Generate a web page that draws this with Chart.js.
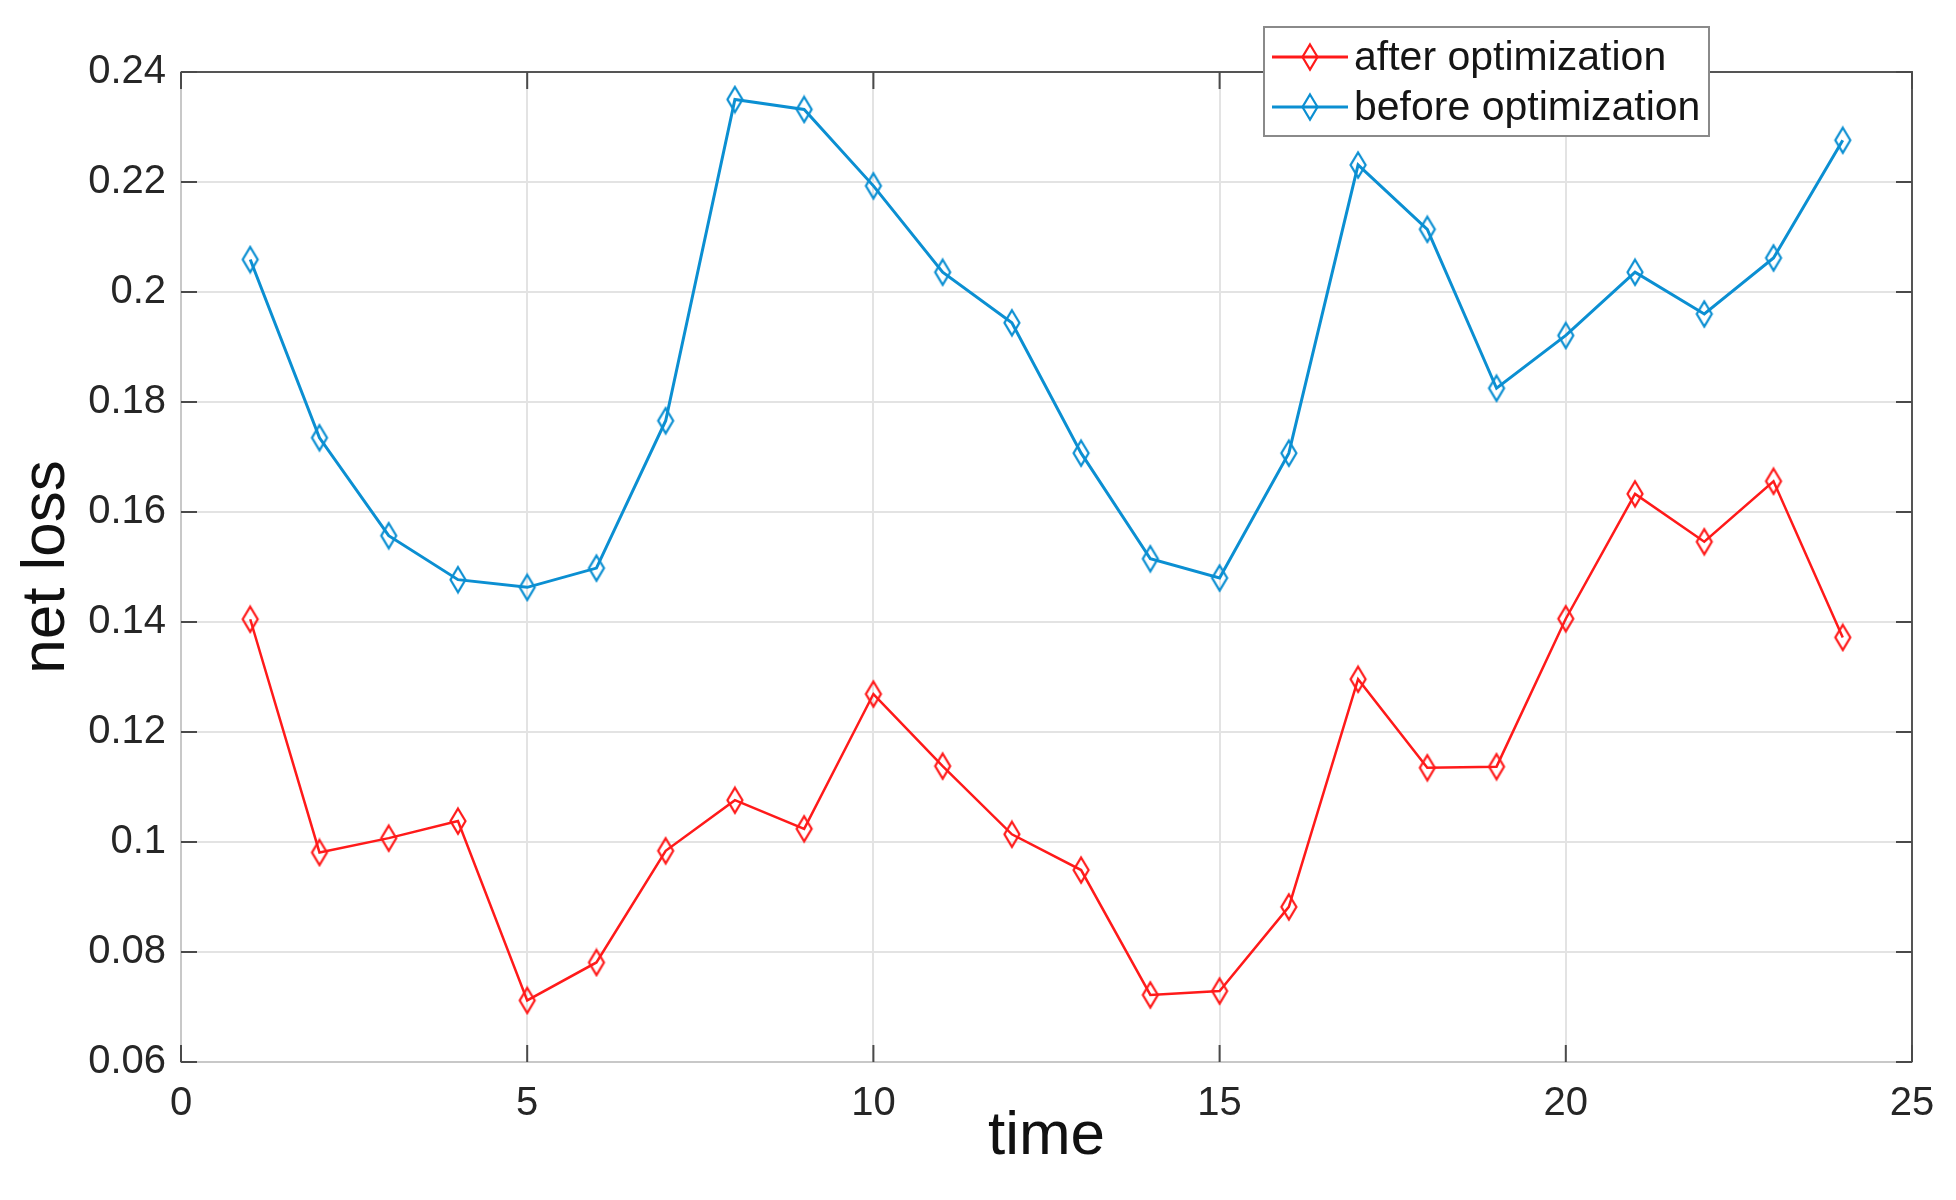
<!DOCTYPE html>
<html>
<head>
<meta charset="utf-8">
<script src="https://cdn.jsdelivr.net/npm/chart.js@4.4.1/dist/chart.umd.min.js"></script>
<style>
  html, body { margin: 0; padding: 0; background: #fff; }
  canvas { display: block; }
</style>
</head>
<body>
<canvas id="lossChart" width="1956" height="1200"></canvas>
<script>
const TIME = [1, 2, 3, 4, 5, 6, 7, 8, 9, 10, 11, 12, 13, 14, 15, 16, 17, 18, 19, 20, 21, 22, 23, 24];

// after optimization (red)
const AFTER = [0.1405, 0.0981, 0.1007, 0.1038, 0.0712, 0.0781, 0.0984, 0.1076, 0.1024, 0.1269, 0.1138, 0.1014,
               0.0949, 0.0722, 0.0729, 0.0882, 0.1296, 0.1135, 0.1137, 0.1406, 0.1633, 0.1546, 0.1656, 0.1372];

// before optimization (blue)
const BEFORE = [0.2059, 0.1735, 0.1557, 0.1477, 0.1463, 0.1498, 0.1766, 0.2350, 0.2332, 0.2193, 0.2036, 0.1944,
                0.1707, 0.1515, 0.1480, 0.1707, 0.2231, 0.2114, 0.1825, 0.1921, 0.2036, 0.1960, 0.2062, 0.2276];

const SERIES_LABELS = ['after optimization', 'before optimization'];
const X_TICKS = [0, 5, 10, 15, 20, 25];
const Y_TICKS = [0.06, 0.08, 0.10, 0.12, 0.14, 0.16, 0.18, 0.20, 0.22, 0.24];

const RED = '#ff1a1a';
const BLUE = '#0b8fd2';
const FONT = '"Liberation Sans", Arial, Helvetica, sans-serif';

// MATLAB style diamond: a bit taller than wide, unfilled
function makeDiamond(color) {
    const c = document.createElement('canvas');
    c.width = 22;
    c.height = 30;
    const g = c.getContext('2d');
    g.strokeStyle = color;
    g.lineWidth = 2.2;
    g.beginPath();
    g.moveTo(11, 2.5);
    g.lineTo(18.5, 15);
    g.lineTo(11, 27.5);
    g.lineTo(3.5, 15);
    g.closePath();
    g.stroke();
    return c;
}
const diamondRed = makeDiamond(RED);
const diamondBlue = makeDiamond(BLUE);

function toPoints(values) {
    return TIME.map((t, i) => ({ x: t, y: values[i] }));
}

// top/right box lines and inward tick marks, like MATLAB "box on"
const boxPlugin = {
    id: 'boxTicks',
    beforeDatasetsDraw(chart) {
        const { ctx, chartArea: a, scales } = chart;
        ctx.save();
        ctx.strokeStyle = '#555';
        ctx.lineWidth = 2;
        ctx.beginPath();
        ctx.moveTo(a.left, a.top);
        ctx.lineTo(a.right, a.top);
        ctx.lineTo(a.right, a.bottom);
        ctx.stroke();

        ctx.strokeStyle = '#4a4a4a';
        ctx.lineWidth = 2;
        ctx.beginPath();
        X_TICKS.forEach(v => {
            const px = scales.x.getPixelForValue(v);
            ctx.moveTo(px, a.bottom); ctx.lineTo(px, a.bottom - 17);
            ctx.moveTo(px, a.top); ctx.lineTo(px, a.top + 17);
        });
        Y_TICKS.forEach(v => {
            const py = scales.y.getPixelForValue(v);
            ctx.moveTo(a.left, py); ctx.lineTo(a.left + 16, py);
            ctx.moveTo(a.right, py); ctx.lineTo(a.right - 16, py);
        });
        ctx.stroke();
        ctx.restore();
    },
    afterDraw(chart) {
        // legend box in the top right, overlapping the top border
        const { ctx, chartArea: a } = chart;
        const x0 = a.right - 648, y0 = a.top - 45, w = 445, h = 109;
        ctx.save();
        ctx.fillStyle = '#fff';
        ctx.fillRect(x0, y0, w, h);
        ctx.strokeStyle = '#8a8a8a';
        ctx.lineWidth = 2;
        ctx.strokeRect(x0, y0, w, h);
        ctx.font = '41px ' + FONT;
        ctx.textBaseline = 'middle';
        ctx.fillStyle = '#151515';
        chart.data.datasets.forEach((ds, i) => {
            const ry = y0 + 30 + i * 50;
            ctx.strokeStyle = ds.borderColor;
            ctx.lineWidth = 3;
            ctx.beginPath();
            ctx.moveTo(x0 + 8, ry);
            ctx.lineTo(x0 + 84, ry);
            ctx.stroke();
            const img = ds.pointStyle;
            ctx.drawImage(img, x0 + 46 - img.width / 2, ry - img.height / 2);
            ctx.fillText(ds.label, x0 + 90, ry + 2);
        });
        ctx.restore();
    }
};

const ctx = document.getElementById('lossChart').getContext('2d');
new Chart(ctx, {
    type: 'line',
    data: {
        datasets: [
            {
                label: SERIES_LABELS[0],
                data: toPoints(AFTER),
                borderColor: RED,
                borderWidth: 2.5,
                pointStyle: diamondRed,
                pointRadius: 10,
                tension: 0,
                fill: false
            },
            {
                label: SERIES_LABELS[1],
                data: toPoints(BEFORE),
                borderColor: BLUE,
                borderWidth: 3,
                pointStyle: diamondBlue,
                pointRadius: 10,
                tension: 0,
                fill: false
            }
        ]
    },
    options: {
        responsive: false,
        animation: false,
        devicePixelRatio: 1,
        layout: { padding: { top: 72, right: 44, left: 0, bottom: 0 } },
        plugins: {
            legend: { display: false },
            tooltip: { enabled: false }
        },
        scales: {
            x: {
                type: 'linear',
                min: 0,
                max: 25,
                afterBuildTicks: s => { s.ticks = X_TICKS.map(v => ({ value: v })); },
                afterFit: s => { s.height = 138; },
                grid: { color: '#e3e3e3', lineWidth: 2, drawTicks: false },
                border: { display: true, color: '#c8c8c8', width: 2 },
                ticks: {
                    padding: 18,
                    maxRotation: 0,
                    color: '#262626',
                    font: { family: FONT, size: 40 },
                    callback: v => String(v)
                },
                title: {
                    display: true,
                    text: 'time',
                    color: '#111',
                    font: { family: FONT, size: 62, lineHeight: 1.2 },
                    padding: { top: 0, bottom: 26 }
                }
            },
            y: {
                type: 'linear',
                min: 0.06,
                max: 0.24,
                afterBuildTicks: s => { s.ticks = Y_TICKS.map(v => ({ value: v })); },
                afterFit: s => { s.width = 181; },
                grid: { color: '#e3e3e3', lineWidth: 2, drawTicks: false },
                border: { display: true, color: '#c8c8c8', width: 2 },
                ticks: {
                    padding: 15,
                    color: '#262626',
                    font: { family: FONT, size: 40 },
                    callback: v => String(Number(v.toFixed(2)))
                },
                title: {
                    display: true,
                    text: 'net loss',
                    color: '#111',
                    font: { family: FONT, size: 62, lineHeight: 1.2 },
                    padding: { top: 10, bottom: 0 }
                }
            }
        }
    },
    plugins: [boxPlugin]
});
</script>
</body>
</html>
